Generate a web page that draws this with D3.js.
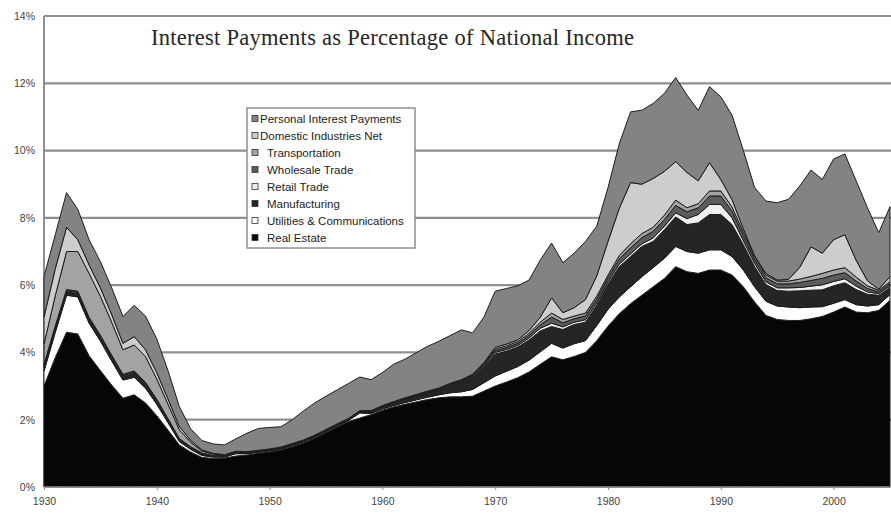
<!DOCTYPE html>
<html>
<head>
<meta charset="utf-8">
<script src="https://cdn.jsdelivr.net/npm/d3@7"></script>
<style>
  body { margin: 0; background: #fff; }
  svg { display: block; }
</style>
</head>
<body>
<svg id="chart" width="891" height="514"></svg>
<script>
// Interest payments by sector, % of national income, 1930-2005
const firstYear = 1930;

const realEstate = [
  3.0, 3.85, 4.6, 4.55, 3.9, 3.46, 3.03, 2.64, 2.74, 2.5,
  2.12, 1.69, 1.25, 1.04, 0.88, 0.85, 0.86, 0.92, 0.95, 1.0,
  1.04, 1.1, 1.2, 1.31, 1.45, 1.62, 1.79, 1.95, 2.05, 2.15,
  2.28, 2.38, 2.46, 2.53, 2.6, 2.65, 2.68, 2.68, 2.7, 2.85,
  3.0, 3.12, 3.25, 3.42, 3.65, 3.87, 3.78, 3.88, 4.0, 4.35,
  4.78, 5.15, 5.45, 5.7, 5.95, 6.2, 6.55, 6.4, 6.35, 6.45,
  6.45, 6.3, 5.95, 5.5, 5.1, 4.98, 4.95, 4.95, 5.0, 5.07,
  5.2, 5.35, 5.2, 5.18, 5.25, 5.55
];
const utilities = [
  0.45, 0.75, 1.1, 1.1, 0.97, 0.88, 0.72, 0.54, 0.52, 0.44,
  0.34, 0.22, 0.1, 0.08, 0.06, 0.04, 0.03, 0.07, 0.04, 0.03,
  0.03, 0.03, 0.03, 0.03, 0.03, 0.03, 0.03, 0.03, 0.15, 0.04,
  0.04, 0.04, 0.05, 0.06, 0.07, 0.09, 0.12, 0.15, 0.2, 0.25,
  0.3, 0.32, 0.33, 0.35, 0.37, 0.4, 0.35, 0.38, 0.35, 0.45,
  0.5, 0.5, 0.5, 0.55, 0.57, 0.6, 0.6, 0.6, 0.6, 0.6,
  0.6, 0.55, 0.5, 0.45, 0.42, 0.4, 0.4, 0.38, 0.35, 0.29,
  0.26, 0.22, 0.22, 0.2, 0.17, 0.17
];
const manufacturing = [
  0.1, 0.1, 0.1, 0.1, 0.1, 0.1, 0.1, 0.1, 0.12, 0.1,
  0.09, 0.07, 0.05, 0.04, 0.03, 0.03, 0.02, 0.02, 0.02, 0.02,
  0.02, 0.02, 0.02, 0.02, 0.02, 0.02, 0.02, 0.02, 0.03, 0.04,
  0.06, 0.08, 0.1, 0.12, 0.14, 0.16, 0.22, 0.3, 0.38, 0.5,
  0.65, 0.6, 0.58, 0.6, 0.62, 0.5, 0.55, 0.57, 0.55, 0.6,
  0.75, 0.9, 0.9, 0.9, 0.78, 0.85, 0.88, 0.8, 0.9, 1.05,
  1.05, 0.95, 0.75, 0.6, 0.5, 0.46, 0.47, 0.5, 0.5, 0.5,
  0.52, 0.5, 0.45, 0.35, 0.28, 0.2
];
const retailTrade = [
  0.05, 0.04, 0.03, 0.03, 0.03, 0.03, 0.03, 0.03, 0.03, 0.03,
  0.03, 0.02, 0.02, 0.02, 0.02, 0.01, 0.01, 0.01, 0.01, 0.01,
  0.01, 0.01, 0.01, 0.01, 0.01, 0.01, 0.01, 0.01, 0.01, 0.01,
  0.01, 0.01, 0.01, 0.01, 0.01, 0.01, 0.02, 0.02, 0.02, 0.03,
  0.05, 0.05, 0.05, 0.06, 0.08, 0.1, 0.08, 0.07, 0.07, 0.07,
  0.07, 0.08, 0.08, 0.08, 0.1, 0.1, 0.12, 0.18, 0.25, 0.3,
  0.3, 0.2, 0.12, 0.1, 0.08, 0.08, 0.1, 0.1, 0.12, 0.15,
  0.13, 0.12, 0.1, 0.07, 0.05, 0.05
];
const wholesaleTrade = [
  0.05, 0.05, 0.04, 0.04, 0.04, 0.04, 0.04, 0.04, 0.04, 0.04,
  0.03, 0.03, 0.02, 0.02, 0.02, 0.01, 0.01, 0.01, 0.01, 0.01,
  0.01, 0.01, 0.01, 0.01, 0.01, 0.01, 0.01, 0.01, 0.01, 0.01,
  0.01, 0.01, 0.01, 0.01, 0.01, 0.01, 0.02, 0.02, 0.02, 0.03,
  0.05, 0.06, 0.06, 0.08, 0.1, 0.18, 0.12, 0.1, 0.12, 0.12,
  0.12, 0.15, 0.18, 0.18, 0.2, 0.2, 0.22, 0.2, 0.2, 0.25,
  0.25, 0.2, 0.15, 0.12, 0.12, 0.12, 0.12, 0.15, 0.17, 0.19,
  0.19, 0.18, 0.15, 0.1, 0.05, 0.08
];
const transportation = [
  0.6, 0.9, 1.13, 1.18, 1.31, 1.16, 0.98, 0.73, 0.77, 0.77,
  0.6, 0.43, 0.26, 0.13, 0.06, 0.04, 0.02, 0.02, 0.01, 0.01,
  0.01, 0.01, 0.01, 0.01, 0.01, 0.01, 0.01, 0.01, 0.01, 0.01,
  0.01, 0.01, 0.01, 0.01, 0.01, 0.01, 0.01, 0.01, 0.02, 0.02,
  0.05, 0.05, 0.05, 0.06, 0.08, 0.12, 0.1, 0.08, 0.08, 0.08,
  0.08, 0.1, 0.12, 0.12, 0.12, 0.13, 0.16, 0.12, 0.12, 0.15,
  0.15, 0.12, 0.1, 0.08, 0.08, 0.08, 0.08, 0.1, 0.12, 0.15,
  0.15, 0.15, 0.12, 0.08, 0.05, 0.05
];
const domesticNet = [
  0.8, 0.8, 0.72, 0.35, 0.25, 0.25, 0.23, 0.19, 0.25, 0.2,
  0.19, 0.15, 0.1, 0.06, 0.03, 0.02, 0.01, 0.01, 0.01, 0.01,
  0.01, 0.01, 0.01, 0.01, 0.01, 0.01, 0.01, 0.01, 0.01, 0.01,
  0.01, 0.01, 0.01, 0.01, 0.01, 0.01, 0.01, 0.01, 0.01, 0.02,
  0.05, 0.05, 0.05, 0.08, 0.15, 0.45, 0.2, 0.25, 0.4, 0.6,
  1.0, 1.4, 1.82, 1.47, 1.45, 1.3, 1.14, 1.05, 0.68, 0.84,
  0.34, 0.22, 0.1, 0.02, 0.05, 0.03, 0.05, 0.35, 0.88, 0.6,
  0.9, 0.98, 0.5, 0.15, 0.03, 0.15
];
const personalInterest = [
  1.2, 1.01, 1.03, 0.9, 0.75, 0.78, 0.79, 0.8, 0.93, 1.0,
  1.0, 0.84, 0.59, 0.34, 0.28, 0.28, 0.29, 0.37, 0.55, 0.65,
  0.64, 0.6, 0.71, 0.86, 0.96, 0.99, 1.01, 1.04, 1.0, 0.92,
  0.98, 1.11, 1.15, 1.24, 1.33, 1.39, 1.42, 1.48, 1.23, 1.35,
  1.67, 1.65, 1.61, 1.5, 1.7, 1.63, 1.49, 1.62, 1.73, 1.48,
  1.6, 1.92, 2.1, 2.2, 2.23, 2.32, 2.5, 2.3, 2.1, 2.26,
  2.46, 2.51, 2.33, 2.03, 2.15, 2.3, 2.38, 2.42, 2.28, 2.19,
  2.4, 2.4, 2.36, 2.17, 1.68, 2.08
];

// Stack order, bottom to top
const seriesNames = [
  "Real Estate", "Utilities & Communications", "Manufacturing", "Retail Trade",
  "Wholesale Trade", "Transportation", "Domestic Industries Net", "Personal Interest Payments"
];
const seriesValues = [
  realEstate, utilities, manufacturing, retailTrade,
  wholesaleTrade, transportation, domesticNet, personalInterest
];
const seriesColors = [
  "#060606", "#ffffff", "#252525", "#efefef",
  "#5c5c5c", "#a3a3a3", "#cdcdcd", "#838383"
];
const yTicks = [0, 2, 4, 6, 8, 10, 12, 14];
const xTicks = [1930, 1940, 1950, 1960, 1970, 1980, 1990, 2000];
const titleText = "Interest Payments as Percentage of National Income";

const years = realEstate.map((_, i) => firstYear + i);
const rows = years.map((yr, i) => {
  const r = { year: yr };
  seriesNames.forEach((n, k) => { r[n] = seriesValues[k][i]; });
  return r;
});

const svg = d3.select("#chart");
const x = d3.scaleLinear().domain([1930, 2005]).range([44, 890]);
const y = d3.scaleLinear().domain([0, 14]).range([487, 16]);

// Horizontal gridlines
svg.append("g")
  .selectAll("line")
  .data(yTicks.filter(d => d > 0))
  .join("line")
  .attr("x1", x(1930)).attr("x2", 891)
  .attr("y1", d => y(d)).attr("y2", d => y(d))
  .attr("stroke", "#8f8f8f")
  .attr("stroke-width", 2.2);

// Left axis line
svg.append("line")
  .attr("x1", x(1930)).attr("x2", x(1930))
  .attr("y1", y(14)).attr("y2", y(0))
  .attr("stroke", "#8f8f8f").attr("stroke-width", 2);

// Stacked areas
const stacked = d3.stack().keys(seriesNames)(rows);
const area = d3.area()
  .x(d => x(d.data.year))
  .y0(d => y(d[0]))
  .y1(d => y(d[1]));

svg.append("g")
  .selectAll("path")
  .data(stacked)
  .join("path")
  .attr("d", area)
  .attr("fill", (d, i) => seriesColors[i])
  .attr("stroke", "#1c1c1c")
  .attr("stroke-width", 1)
  .attr("stroke-linejoin", "round");

// Baseline
svg.append("line")
  .attr("x1", x(1930)).attr("x2", 891)
  .attr("y1", y(0)).attr("y2", y(0))
  .attr("stroke", "#8f8f8f").attr("stroke-width", 1.5);

// Y axis labels
const yAxis = d3.axisLeft(y)
  .tickValues(yTicks)
  .tickFormat(d => d + "%")
  .tickSize(0)
  .tickPadding(9);
const gy = svg.append("g").attr("transform", `translate(${x(1930)},0)`).call(yAxis);
gy.select(".domain").remove();
gy.selectAll("text")
  .attr("font-family", "'Liberation Sans', Arial, sans-serif")
  .attr("font-size", 10.5)
  .attr("fill", "#444");

// X axis labels
const xAxis = d3.axisBottom(x)
  .tickValues(xTicks)
  .tickFormat(d3.format("d"))
  .tickSize(3)
  .tickPadding(8);
const gx = svg.append("g").attr("transform", `translate(0,${y(0)})`).call(xAxis);
gx.select(".domain").remove();
gx.selectAll("line").attr("stroke", "#8f8f8f");
gx.selectAll("text")
  .attr("font-family", "'Liberation Sans', Arial, sans-serif")
  .attr("font-size", 10.5)
  .attr("fill", "#444");

// Title
svg.append("text")
  .attr("x", 151)
  .attr("y", 45)
  .attr("font-family", "'Liberation Serif', 'DejaVu Serif', serif")
  .attr("font-size", 22.5)
  .attr("fill", "#262626")
  .attr("textLength", 483)
  .attr("lengthAdjust", "spacing")
  .text(titleText);

// Legend, top entry first
const legend = svg.append("g").attr("transform", "translate(247,108)");
legend.append("rect")
  .attr("width", 168).attr("height", 140)
  .attr("fill", "#fff")
  .attr("stroke", "#8f8f8f").attr("stroke-width", 1.5);

const legendOrder = seriesNames.map((n, i) => i).reverse();
const items = legend.selectAll("g.item")
  .data(legendOrder)
  .join("g")
  .attr("class", "item")
  .attr("transform", (d, k) => `translate(0,${11 + k * 17})`);
items.append("rect")
  .attr("x", 5).attr("y", -3.5)
  .attr("width", 6).attr("height", 6)
  .attr("fill", d => seriesColors[d])
  .attr("stroke", "#333").attr("stroke-width", 0.8);
items.append("text")
  .attr("x", (d, k) => k < 2 ? 13 : 20)
  .attr("y", 0)
  .attr("dy", "0.35em")
  .attr("font-family", "'Liberation Sans', Arial, sans-serif")
  .attr("font-size", 11.5)
  .attr("fill", "#222")
  .text(d => seriesNames[d]);
</script>
</body>
</html>
